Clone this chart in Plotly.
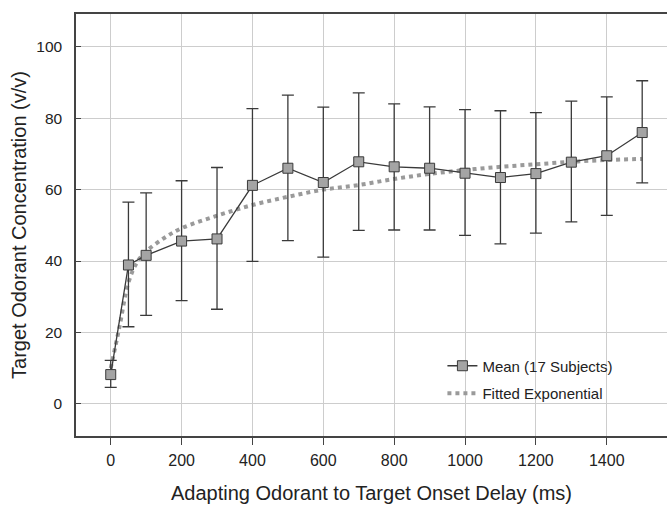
import plotly.graph_objects as go

delay_ms = [0, 50, 100, 200, 300, 400, 500, 600, 700, 800, 900, 1000, 1100, 1200, 1300, 1400, 1500]
mean_conc = [8.2, 38.9, 41.6, 45.6, 46.2, 61.2, 66.0, 62.0, 67.8, 66.4, 66.0, 64.6, 63.4, 64.5, 67.7, 69.5, 76.0]
err_upper = [12.2, 56.5, 59.1, 62.5, 66.2, 82.7, 86.5, 83.1, 87.1, 84.0, 83.2, 82.4, 82.1, 81.6, 84.8, 86.0, 90.5]
err_lower = [4.6, 21.6, 24.8, 28.9, 26.5, 39.9, 45.7, 41.1, 48.6, 48.7, 48.7, 47.2, 44.8, 47.8, 51.0, 52.8, 61.9]

fit_x = [0, 25, 50, 75, 100, 150, 200, 300, 400, 500, 600, 700, 800, 900, 1000, 1100, 1200, 1300, 1400, 1500]
fit_y = [10.0, 21.7, 34.0, 39.8, 42.7, 46.4, 49.2, 52.7, 55.7, 58.0, 60.0, 61.3, 63.0, 64.4, 65.5, 66.4, 67.1, 67.8, 68.3, 68.6]

x_ticks = [0, 200, 400, 600, 800, 1000, 1200, 1400]
y_ticks = [0, 20, 40, 60, 80, 100]

plus = [u - m for u, m in zip(err_upper, mean_conc)]
minus = [m - l for m, l in zip(mean_conc, err_lower)]

fig = go.Figure()
fig.add_trace(go.Scatter(
    x=fit_x, y=fit_y, mode="lines", name="Fitted Exponential", legendgroup="fit", legendrank=2,
    line=dict(color="#9a9a9a", width=4, dash="dot", shape="spline"),
))
fig.add_trace(go.Scatter(
    x=delay_ms, y=mean_conc, mode="lines+markers", name="Mean (17 Subjects)", legendgroup="mean", legendrank=1,
    line=dict(color="#3a3a3a", width=1.3),
    marker=dict(symbol="square", size=10, color="#a4a4a4", line=dict(color="#3a3a3a", width=1)),
    error_y=dict(type="data", symmetric=False, array=plus, arrayminus=minus,
                 color="#3a3a3a", thickness=1.3, width=6),
))

fig.update_layout(
    width=667, height=505,
    margin=dict(l=76, r=0, t=14, b=69),
    paper_bgcolor="white", plot_bgcolor="white",
    font=dict(family="Liberation Sans, Arial, sans-serif", color="#222", size=16),
    legend=dict(x=0.62, y=0.205, xanchor="left", yanchor="top",
                traceorder="grouped", tracegroupgap=5, bgcolor="rgba(0,0,0,0)",
                font=dict(size=15)),
    xaxis=dict(range=[-98, 1570], tickvals=x_ticks, showgrid=True, gridcolor="#cdcdcd",
               gridwidth=1, zeroline=False, showline=True, linecolor="#444", linewidth=1.5,
               mirror=True, ticks="outside", ticklen=7, tickcolor="#444",
               ticklabelstandoff=2, tickfont=dict(size=16),
               title=dict(text="Adapting Odorant to Target Onset Delay (ms)", font=dict(size=20), standoff=18)),
    yaxis=dict(range=[-9, 109.2], tickvals=y_ticks, showgrid=True, gridcolor="#cdcdcd",
               gridwidth=1, zeroline=False, showline=True, linecolor="#444", linewidth=1.5,
               mirror=False, ticks="inside", ticklen=5, tickcolor="#444",
               ticklabelstandoff=9, tickfont=dict(size=15.5),
               title=dict(text="Target Odorant Concentration (v/v)", font=dict(size=20), standoff=4)),
)

fig.write_html("out.html", config={"displayModeBar": False},
               post_script="document.body.style.margin='0';document.body.style.padding='0';")
